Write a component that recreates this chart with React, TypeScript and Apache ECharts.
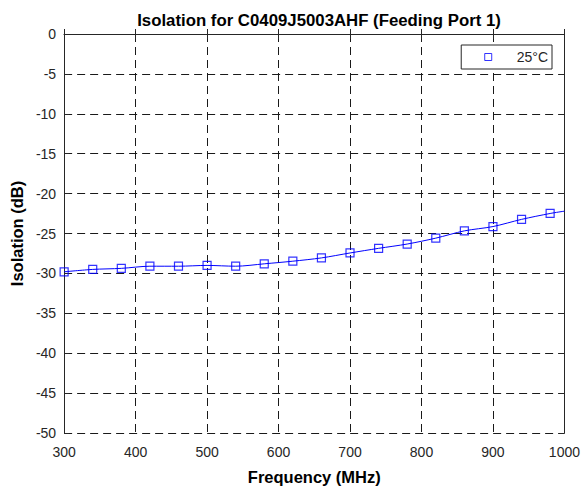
import React, { useEffect, useRef } from "react";
import * as echarts from "echarts";

const markerFreq = [300, 340, 380, 420, 460, 500, 540, 580, 620, 660, 700, 740, 780, 820, 860, 900, 940, 980];
const markerIso = [-29.8, -29.5, -29.37, -29.1, -29.1, -29.0, -29.1, -28.8, -28.47, -28.06, -27.44, -26.86, -26.32, -25.58, -24.67, -24.13, -23.23, -22.49];
const lineEndFreq = 1000;
const lineEndIso = -22.2;
const seriesName = "25°C";
const titleText = "Isolation for C0409J5003AHF (Feeding Port 1)";
const xName = "Frequency (MHz)";
const yName = "Isolation (dB)";

export default function App() {
  const ref = useRef<HTMLDivElement>(null);
  useEffect(() => {
    document.body.style.margin = "0";
    const chart = echarts.init(ref.current!, null, { renderer: "svg" });
    const font = "Liberation Sans, Arial, sans-serif";
    const lineData = markerFreq.map((f, i) => [f, markerIso[i]]).concat([[lineEndFreq, lineEndIso]]);
    const scatterData = markerFreq.map((f, i) => [f, markerIso[i]]);
    const axisColor = "#262626";
    const gridDash = { color: "#1a1a1a", type: [8, 5] as any, width: 1 };
    chart.setOption({
      animation: false,
      backgroundColor: "#fff",
      title: {
        text: titleText,
        left: 314,
        textAlign: "center",
        top: 7,
        textStyle: { fontFamily: font, fontWeight: "bold", fontSize: 16.8, color: "#000" },
      },
      grid: { left: 62, right: 17, top: 34, bottom: 52 },
      legend: {
        data: [{ name: seriesName, icon: "rect" }],
        right: 31,
        top: 45,
        orient: "vertical",
        backgroundColor: "#fff",
        borderColor: axisColor,
        borderWidth: 1,
        borderRadius: 0,
        padding: [5, 4, 5, 23],
        itemWidth: 7,
        itemHeight: 7,
        itemGap: 0,
        textStyle: { fontFamily: font, fontSize: 14, color: axisColor, padding: [0, 0, 0, 20] },
        itemStyle: { color: "transparent", borderColor: "#0000ff", borderWidth: 1 },
      },
      xAxis: [
        {
          type: "value",
          min: 300,
          max: 1000,
          interval: 100,
          name: xName,
          nameLocation: "middle",
          nameGap: 35,
          nameTextStyle: { fontFamily: font, fontWeight: "bold", fontSize: 16.5, color: "#000" },
          axisLine: { show: true, lineStyle: { color: axisColor } },
          axisTick: { show: true, inside: true, length: 5, lineStyle: { color: axisColor } },
          axisLabel: { fontFamily: font, fontSize: 14, color: axisColor, margin: 12, formatter: (v: number) => String(v) },
          splitLine: { show: true, lineStyle: gridDash },
        },
        {
          type: "value",
          position: "top",
          min: 300,
          max: 1000,
          interval: 100,
          axisLine: { show: true, onZero: false, lineStyle: { color: axisColor } },
          axisTick: { show: true, inside: true, length: 5, lineStyle: { color: axisColor } },
          axisLabel: { show: false },
          splitLine: { show: false },
        },
      ],
      yAxis: [
        {
          type: "value",
          min: -50,
          max: 0,
          interval: 5,
          name: yName,
          nameLocation: "middle",
          nameGap: 38,
          nameTextStyle: { fontFamily: font, fontWeight: "bold", fontSize: 16.5, color: "#000" },
          axisLine: { show: true, onZero: false, lineStyle: { color: axisColor } },
          axisTick: { show: true, inside: true, length: 5, lineStyle: { color: axisColor } },
          axisLabel: { fontFamily: font, fontSize: 14, color: axisColor, margin: 8 },
          splitLine: { show: true, lineStyle: gridDash },
        },
        {
          type: "value",
          position: "right",
          min: -50,
          max: 0,
          interval: 5,
          axisLine: { show: true, onZero: false, lineStyle: { color: axisColor } },
          axisTick: { show: true, inside: true, length: 5, lineStyle: { color: axisColor } },
          axisLabel: { show: false },
          splitLine: { show: false },
        },
      ],
      series: [
        {
          name: "line",
          type: "line",
          data: lineData,
          showSymbol: false,
          smooth: 0.3,
          lineStyle: { color: "#0000ff", width: 1 },
          xAxisIndex: 0,
          yAxisIndex: 0,
          z: 2,
        },
        {
          name: seriesName,
          type: "scatter",
          data: scatterData,
          symbol: "rect",
          symbolSize: 8,
          itemStyle: { color: "transparent", borderColor: "#0000ff", borderWidth: 1.2 },
          xAxisIndex: 0,
          yAxisIndex: 0,
          z: 3,
        },
      ],
    });
    return () => chart.dispose();
  }, []);
  return <div ref={ref} style={{ width: 583, height: 490, position: "absolute", left: 0, top: 0 }} />;
}
